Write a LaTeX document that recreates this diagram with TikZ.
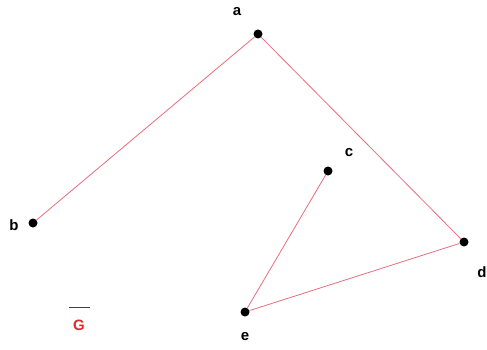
\documentclass[tikz,border=0pt]{standalone}
\usepackage{fontspec}
\setmainfont{Liberation Sans}
\begin{document}
\begin{tikzpicture}[x=1pt,y=-1pt,
  vtx/.style={circle,fill=black,inner sep=0pt,minimum size=9pt},
  lbl/.style={font=\bfseries\fontsize{15}{15}\selectfont,inner sep=0pt},
  edge/.style={draw={rgb,255:red,232;green,110;blue,125},line width=0.8pt}]
\useasboundingbox (0,0) rectangle (487,350);
\node[vtx] (a) at (258,34) {};
\node[vtx] (b) at (33,223) {};
\node[vtx] (c) at (328,171) {};
\node[vtx] (d) at (464,242) {};
\node[vtx] (e) at (245,312) {};
\node[lbl] (la) at (237,12) {a};
\node[lbl] (lb) at (14,225) {b};
\node[lbl] (lc) at (349,153) {c};
\node[lbl] (ld) at (482,272) {d};
\node[lbl] (le) at (245,337) {e};
\node[lbl,text={rgb,255:red,225;green,40;blue,45}] (g) at (79,325) {G};
\coordinate (gl) at (69,307);
\coordinate (gr) at (90,307);
\draw[line width=1pt,black!75] (gl) -- (gr);
\draw[edge] (a) -- (b);
\draw[edge] (a) -- (d);
\draw[edge] (c) -- (e);
\draw[edge] (e) -- (d);
\end{tikzpicture}
\end{document}
